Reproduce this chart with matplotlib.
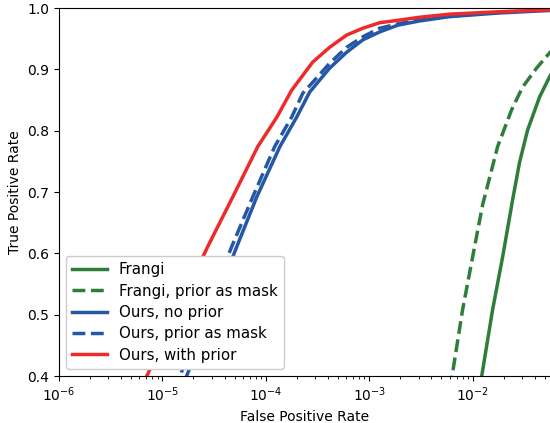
import matplotlib
matplotlib.use("Agg")
import matplotlib.pyplot as plt

# ROC curves (FPR, TPR)
frangi_fpr = [0.011, 0.01222, 0.0156, 0.0195, 0.02435, 0.0284, 0.0340, 0.0444, 0.0555, 0.07]
frangi_tpr = [0.35, 0.399, 0.508, 0.594, 0.687, 0.748, 0.801, 0.855, 0.888, 0.92]

frangi_mask_fpr = [0.0058, 0.00641, 0.0080, 0.010, 0.01249, 0.01744, 0.02381, 0.0304,
                   0.0415, 0.0555, 0.07]
frangi_mask_tpr = [0.35, 0.4055, 0.508, 0.594, 0.679, 0.774, 0.834, 0.871,
                   0.902, 0.927, 0.945]

ours_fpr = [1.32e-5, 1.72e-5, 5.25e-5, 8.19e-5, 1.37e-4, 1.99e-4, 2.66e-4, 4.15e-4,
            6.06e-4, 8.66e-4, 1.26e-3, 1.89e-3, 3.08e-3, 6.0e-3, 1.82e-2, 5.55e-2, 0.3]
ours_tpr = [0.35, 0.40, 0.611, 0.692, 0.774, 0.822, 0.863, 0.902,
            0.928, 0.948, 0.961, 0.972, 0.979, 0.986, 0.992, 0.996, 1.0]

ours_mask_fpr = [1.13e-5, 1.48e-5, 4.69e-5, 7.49e-5, 1.22e-4, 1.78e-4, 2.28e-4, 2.85e-4,
                 4.15e-4, 6.06e-4, 8.66e-4, 1.26e-3, 1.89e-3, 3.08e-3, 6.0e-3, 1.82e-2,
                 5.55e-2, 0.3]
ours_mask_tpr = [0.35, 0.40, 0.611, 0.692, 0.774, 0.822, 0.861, 0.879,
                 0.910, 0.936, 0.953, 0.967, 0.974, 0.981, 0.987, 0.993,
                 0.997, 1.0]

ours_prior_fpr = [5.1e-6, 7.08e-6, 2.75e-5, 4.80e-5, 8.37e-5, 1.28e-4, 1.78e-4, 2.85e-4,
                  4.15e-4, 6.06e-4, 8.66e-4, 1.26e-3, 1.89e-3, 3.08e-3, 6.0e-3, 1.82e-2,
                  5.55e-2, 0.3]
ours_prior_tpr = [0.35, 0.40, 0.611, 0.692, 0.774, 0.822, 0.866, 0.912,
                  0.936, 0.956, 0.967, 0.976, 0.980, 0.985, 0.990, 0.994,
                  0.997, 1.0]

green = "#2e7d3a"
blue = "#2557a7"
red = "#ee2a2a"

fig = plt.figure(figsize=(5.5, 4.23), dpi=100)
ax = fig.add_axes([0.107, 0.111, 0.893, 0.870])

ax.plot(frangi_fpr, frangi_tpr, color=green, lw=2.5, label="Frangi")
ax.plot(frangi_mask_fpr, frangi_mask_tpr, color=green, lw=2.5, ls="--", label="Frangi, prior as mask")
ax.plot(ours_fpr, ours_tpr, color=blue, lw=2.5, label="Ours, no prior")
ax.plot(ours_mask_fpr, ours_mask_tpr, color=blue, lw=2.5, ls="--", label="Ours, prior as mask")
ax.plot(ours_prior_fpr, ours_prior_tpr, color=red, lw=2.5, label="Ours, with prior")

ax.set_xscale("log")
ax.set_xlim(1e-6, 0.056)
ax.set_ylim(0.4, 1.0)
ax.set_xlabel("False Positive Rate", fontsize=10)
ax.set_ylabel("True Positive Rate", fontsize=10)
ax.tick_params(labelsize=10)
ax.spines["right"].set_visible(False)

ax.legend(loc="lower left", fontsize=10.8, handlelength=2.3, labelspacing=0.42,
          framealpha=1.0)

fig.savefig("out.png", dpi=100)
